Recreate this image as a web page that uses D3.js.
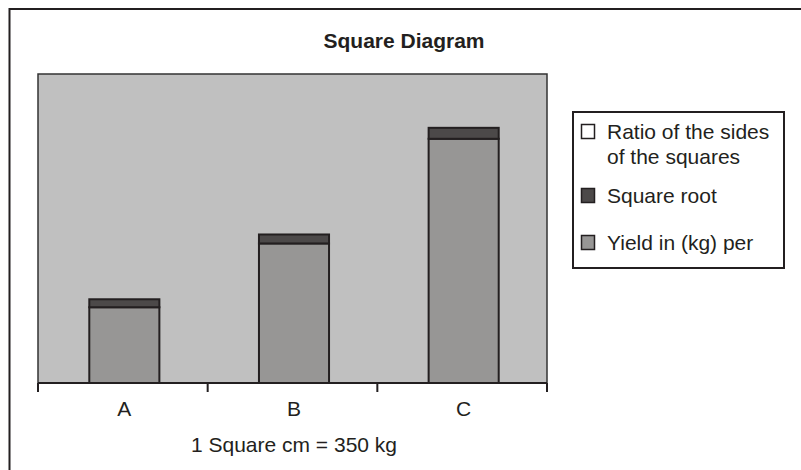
<!DOCTYPE html>
<html>
<head>
<meta charset="utf-8">
<script src="https://cdn.jsdelivr.net/npm/d3@7"></script>
<style>
  html, body { margin: 0; padding: 0; background: #fff; }
  svg { display: block; }
  text { font-family: "Liberation Sans", Arial, sans-serif; fill: #231f20; }
</style>
</head>
<body>
<script>
// ---- data ----
const categories = ["A", "B", "C"];
const yieldValues = [76, 140, 245];       // Yield in (kg) per
const squareRootValues = [8, 9, 11];      // Square root
const ratioValues = [0, 0, 0];            // Ratio of the sides of the squares
const seriesNames = ["Yield in (kg) per", "Square root", "Ratio of the sides of the squares"];
const yMax = 310;
const chartTitle = "Square Diagram";
const footnote = "1 Square cm = 350 kg";

// ---- setup ----
const W = 801, H = 470;
const svg = d3.select("body").append("svg").attr("width", W).attr("height", H);
const ink = "#231f20";

// outer frame (extends past the viewport on right/bottom)
svg.append("rect").attr("x", 9.5).attr("y", 9).attr("width", 820).attr("height", 500)
  .attr("fill", "#fff").attr("stroke", ink).attr("stroke-width", 2);

const plot = { left: 38, right: 547, top: 74, bottom: 383 };

const x = d3.scaleBand().domain(categories).range([plot.left, plot.right]).padding(0);
const y = d3.scaleLinear().domain([0, yMax]).range([plot.bottom, plot.top]);

// plot area
svg.append("rect")
  .attr("x", plot.left).attr("y", plot.top)
  .attr("width", plot.right - plot.left).attr("height", plot.bottom - plot.top)
  .attr("fill", "#c0c0c0").attr("stroke", "#333").attr("stroke-width", 1.5);

// stacked data
const table = categories.map((c, i) => ({
  cat: c,
  yield: yieldValues[i],
  sqrt: squareRootValues[i],
  ratio: ratioValues[i]
}));
const keys = ["yield", "sqrt", "ratio"];
const colors = { yield: "#979695", sqrt: "#4c4949", ratio: "#ffffff" };
const stack = d3.stack().keys(keys)(table);

const barW = x.bandwidth() * 0.413;
const barOffset = (x.bandwidth() - barW) / 2 + 1.5;

stack.forEach(layer => {
  svg.append("g").selectAll("rect")
    .data(layer.filter(d => d[1] - d[0] > 0))
    .join("rect")
    .attr("x", d => x(d.data.cat) + barOffset)
    .attr("y", d => y(d[1]))
    .attr("width", barW)
    .attr("height", d => y(d[0]) - y(d[1]))
    .attr("fill", colors[layer.key])
    .attr("stroke", ink)
    .attr("stroke-width", 2);
});

// x axis
const xAxisScale = d3.scaleLinear().domain([0, categories.length]).range([plot.left, plot.right]);
const axisG = svg.append("g");
axisG.append("line")
  .attr("x1", plot.left).attr("x2", plot.right)
  .attr("y1", plot.bottom).attr("y2", plot.bottom)
  .attr("stroke", ink).attr("stroke-width", 2);
axisG.selectAll("line.tick")
  .data(d3.range(categories.length + 1))
  .join("line").attr("class", "tick")
  .attr("x1", d => xAxisScale(d)).attr("x2", d => xAxisScale(d))
  .attr("y1", plot.bottom).attr("y2", plot.bottom + 9)
  .attr("stroke", ink).attr("stroke-width", 2);
axisG.selectAll("text")
  .data(categories)
  .join("text")
  .attr("x", d => x(d) + x.bandwidth() / 2 + 1.5)
  .attr("y", 416)
  .attr("text-anchor", "middle")
  .attr("font-size", 21)
  .text(d => d);

// title
svg.append("text")
  .attr("x", 404).attr("y", 48)
  .attr("text-anchor", "middle")
  .attr("font-size", 21).attr("font-weight", "bold")
  .text(chartTitle);

// footnote (axis title)
svg.append("text")
  .attr("x", (plot.left + plot.right) / 2 + 1.5).attr("y", 452)
  .attr("text-anchor", "middle")
  .attr("font-size", 21)
  .text(footnote);

// legend
const lg = svg.append("g");
lg.append("rect").attr("x", 573).attr("y", 112).attr("width", 211).attr("height", 156)
  .attr("fill", "#fff").attr("stroke", ink).attr("stroke-width", 2);

const legendItems = [
  { key: "ratio", lines: ["Ratio of the sides", "of the squares"], base: 139 },
  { key: "sqrt", lines: ["Square root"], base: 203 },
  { key: "yield", lines: ["Yield in (kg) per"], base: 250 }
];
legendItems.forEach(it => {
  lg.append("rect")
    .attr("x", 581.5).attr("y", it.base - 14.5)
    .attr("width", 13).attr("height", 14)
    .attr("fill", colors[it.key]).attr("stroke", ink).attr("stroke-width", 1.5);
  const t = lg.append("text").attr("x", 607).attr("y", it.base).attr("font-size", 21);
  it.lines.forEach((ln, j) => {
    t.append("tspan").attr("x", 607).attr("dy", j === 0 ? 0 : 25).text(ln);
  });
});
</script>
</body>
</html>
